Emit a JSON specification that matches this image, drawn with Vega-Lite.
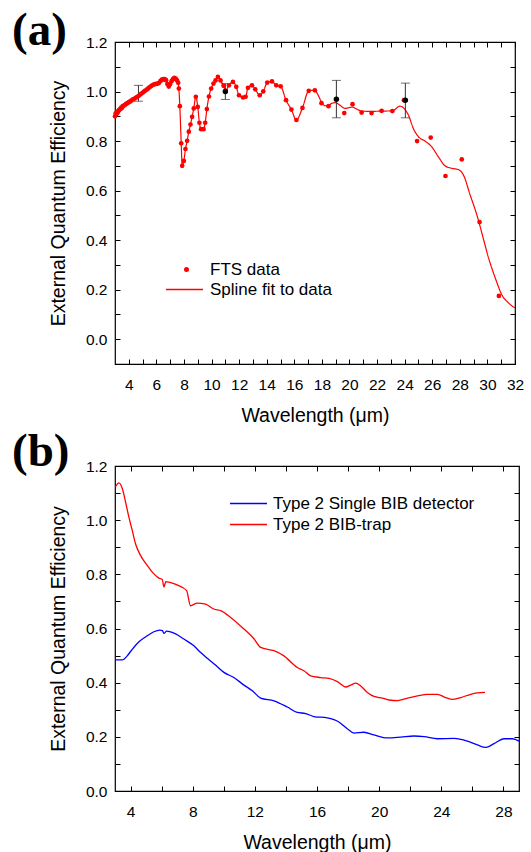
{
  "$schema": "https://vega.github.io/schema/vega-lite/v6.json",
  "background": "white",
  "padding": {"left": 11, "top": 6, "right": 3, "bottom": 0},
  "spacing": 1,
  "config": {
    "font": "Liberation Sans",
    "view": {"stroke": "black", "strokeWidth": 1.2},
    "axis": {"grid": false, "domain": false, "ticks": true, "tickColor": "black", "tickSize": -5, "tickWidth": 1,
      "labelFont": "Liberation Sans", "labelFontSize": 15.5, "labelColor": "black", "labelFlush": false, "labelOverlap": false,
      "titleFont": "Liberation Sans", "titleFontSize": 19.5, "titleFontWeight": "normal", "titleColor": "black"},
    "axisX": {"labelPadding": 18, "titlePadding": 14},
    "axisY": {"labelPadding": 13, "titlePadding": 17},
    "legend": {"labelFont": "Liberation Sans", "labelFontSize": 17, "labelColor": "black", "padding": 0, "labelLimit": 400}
  },
  "datasets": {
    "fts": [
      {"x":3.00,"y":0.900},{"x":3.05,"y":0.912},{"x":3.10,"y":0.908},{"x":3.15,"y":0.918},{"x":3.20,"y":0.915},{"x":3.25,"y":0.922},{"x":3.30,"y":0.925},{"x":3.35,"y":0.928},{"x":3.40,"y":0.930},{"x":3.45,"y":0.935},{"x":3.50,"y":0.934},{"x":3.55,"y":0.940},{"x":3.60,"y":0.942},{"x":3.70,"y":0.945},{"x":3.80,"y":0.950},{"x":3.90,"y":0.953},{"x":4.00,"y":0.957},{"x":4.10,"y":0.960},{"x":4.20,"y":0.964},{"x":4.30,"y":0.968},{"x":4.40,"y":0.971},{"x":4.50,"y":0.975},{"x":4.60,"y":0.978},{"x":4.70,"y":0.982},{"x":4.80,"y":0.987},{"x":4.90,"y":0.991},{"x":5.00,"y":0.995},{"x":5.10,"y":1.000},{"x":5.20,"y":1.004},{"x":5.30,"y":1.008},{"x":5.40,"y":1.012},{"x":5.50,"y":1.017},{"x":5.60,"y":1.021},{"x":5.70,"y":1.025},{"x":5.80,"y":1.028},{"x":5.90,"y":1.030},{"x":6.00,"y":1.031},{"x":6.10,"y":1.032},{"x":6.20,"y":1.035},{"x":6.30,"y":1.043},{"x":6.40,"y":1.048},{"x":6.50,"y":1.050},{"x":6.60,"y":1.050},{"x":6.70,"y":1.046},{"x":6.80,"y":1.030},{"x":6.90,"y":1.020},{"x":7.00,"y":1.030},{"x":7.10,"y":1.042},{"x":7.20,"y":1.050},{"x":7.30,"y":1.055},{"x":7.40,"y":1.052},{"x":7.50,"y":1.045},{"x":7.58,"y":1.035},
      {"x":7.63,"y":1.012},{"x":7.70,"y":0.941},{"x":7.80,"y":0.791},{"x":7.87,"y":0.700},{"x":7.99,"y":0.720},{"x":8.11,"y":0.768},{"x":8.23,"y":0.801},{"x":8.35,"y":0.838},{"x":8.47,"y":0.867},{"x":8.59,"y":0.898},{"x":8.71,"y":0.932},{"x":8.86,"y":0.979},{"x":9.00,"y":0.938},{"x":9.12,"y":0.874},{"x":9.24,"y":0.848},{"x":9.42,"y":0.848},{"x":9.54,"y":0.874},{"x":9.66,"y":0.929},{"x":9.81,"y":0.980},{"x":9.97,"y":1.012},{"x":10.14,"y":1.032},{"x":10.29,"y":1.045},{"x":10.46,"y":1.059},{"x":10.65,"y":1.045},{"x":10.87,"y":1.023},{"x":11.02,"y":1.003},{"x":11.26,"y":1.025},{"x":11.55,"y":1.039},{"x":11.79,"y":1.019},{"x":11.99,"y":0.985},{"x":12.28,"y":0.976},{"x":12.47,"y":0.979},{"x":12.64,"y":1.015},{"x":12.93,"y":1.025},{"x":13.17,"y":1.009},{"x":13.49,"y":0.985},{"x":13.75,"y":1.001},{"x":14.04,"y":1.036},{"x":14.38,"y":1.041},{"x":14.69,"y":1.025},{"x":15.01,"y":1.021},{"x":15.40,"y":0.965},{"x":15.79,"y":0.927},{"x":16.15,"y":0.885},{"x":16.59,"y":0.934},{"x":17.05,"y":1.003},{"x":17.49,"y":1.005},{"x":17.97,"y":0.953},{"x":18.48,"y":0.941},{"x":19.62,"y":0.913},{"x":20.22,"y":0.949},{"x":20.88,"y":0.915},{"x":21.60,"y":0.913},{"x":22.33,"y":0.922},{"x":23.11,"y":0.921},{"x":23.95,"y":0.965},{"x":24.90,"y":0.800},{"x":25.89,"y":0.814},{"x":26.96,"y":0.659},{"x":28.14,"y":0.726},{"x":29.43,"y":0.473},{"x":30.83,"y":0.175}
    ],
    "spline": [
      {"x":3.00,"y":0.900},{"x":3.05,"y":0.912},{"x":3.10,"y":0.908},{"x":3.15,"y":0.918},{"x":3.20,"y":0.915},{"x":3.25,"y":0.922},{"x":3.30,"y":0.925},{"x":3.35,"y":0.928},{"x":3.40,"y":0.930},{"x":3.45,"y":0.935},{"x":3.50,"y":0.934},{"x":3.55,"y":0.940},{"x":3.60,"y":0.942},{"x":3.70,"y":0.945},{"x":3.80,"y":0.950},{"x":3.90,"y":0.953},{"x":4.00,"y":0.957},{"x":4.10,"y":0.960},{"x":4.20,"y":0.964},{"x":4.30,"y":0.968},{"x":4.40,"y":0.971},{"x":4.50,"y":0.975},{"x":4.60,"y":0.978},{"x":4.70,"y":0.982},{"x":4.80,"y":0.987},{"x":4.90,"y":0.991},{"x":5.00,"y":0.995},{"x":5.10,"y":1.000},{"x":5.20,"y":1.004},{"x":5.30,"y":1.008},{"x":5.40,"y":1.012},{"x":5.50,"y":1.017},{"x":5.60,"y":1.021},{"x":5.70,"y":1.025},{"x":5.80,"y":1.028},{"x":5.90,"y":1.030},{"x":6.00,"y":1.031},{"x":6.10,"y":1.032},{"x":6.20,"y":1.035},{"x":6.30,"y":1.043},{"x":6.40,"y":1.048},{"x":6.50,"y":1.050},{"x":6.60,"y":1.050},{"x":6.70,"y":1.046},{"x":6.80,"y":1.030},{"x":6.90,"y":1.020},{"x":7.00,"y":1.030},{"x":7.10,"y":1.042},{"x":7.20,"y":1.050},{"x":7.30,"y":1.055},{"x":7.40,"y":1.052},{"x":7.50,"y":1.045},{"x":7.58,"y":1.035},
      {"x":7.63,"y":1.012},{"x":7.70,"y":0.941},{"x":7.80,"y":0.791},{"x":7.87,"y":0.700},{"x":7.99,"y":0.720},{"x":8.11,"y":0.768},{"x":8.23,"y":0.801},{"x":8.35,"y":0.838},{"x":8.47,"y":0.867},{"x":8.59,"y":0.898},{"x":8.71,"y":0.932},{"x":8.86,"y":0.979},{"x":9.00,"y":0.938},{"x":9.12,"y":0.874},{"x":9.24,"y":0.848},{"x":9.42,"y":0.848},{"x":9.54,"y":0.874},{"x":9.66,"y":0.929},{"x":9.81,"y":0.980},{"x":9.97,"y":1.012},{"x":10.14,"y":1.032},{"x":10.29,"y":1.045},{"x":10.46,"y":1.059},{"x":10.65,"y":1.045},{"x":10.87,"y":1.023},{"x":11.02,"y":1.003},{"x":11.26,"y":1.025},{"x":11.55,"y":1.039},{"x":11.79,"y":1.019},{"x":11.99,"y":0.985},{"x":12.28,"y":0.976},{"x":12.47,"y":0.979},{"x":12.64,"y":1.015},{"x":12.93,"y":1.025},{"x":13.17,"y":1.009},{"x":13.49,"y":0.985},{"x":13.75,"y":1.001},{"x":14.04,"y":1.036},{"x":14.38,"y":1.041},{"x":14.69,"y":1.025},{"x":15.01,"y":1.021},{"x":15.40,"y":0.965},{"x":15.79,"y":0.927},{"x":16.15,"y":0.885},{"x":16.59,"y":0.934},{"x":17.05,"y":1.003},{"x":17.49,"y":1.005},
      {"x":17.73,"y":0.985},{"x":17.97,"y":0.958},{"x":18.20,"y":0.943},{"x":18.48,"y":0.942},{"x":18.70,"y":0.952},{"x":19.00,"y":0.955},{"x":19.30,"y":0.945},{"x":19.67,"y":0.932},{"x":20.22,"y":0.937},{"x":20.50,"y":0.930},{"x":20.88,"y":0.921},{"x":21.60,"y":0.920},{"x":22.33,"y":0.921},{"x":23.11,"y":0.922},{"x":23.66,"y":0.941},{"x":23.95,"y":0.932},{"x":24.27,"y":0.905},{"x":24.63,"y":0.851},{"x":24.99,"y":0.818},{"x":25.48,"y":0.800},{"x":25.96,"y":0.777},{"x":26.45,"y":0.736},{"x":26.93,"y":0.700},{"x":27.42,"y":0.690},{"x":27.90,"y":0.685},{"x":28.27,"y":0.662},{"x":28.75,"y":0.582},{"x":29.24,"y":0.501},{"x":29.60,"y":0.428},{"x":30.09,"y":0.327},{"x":30.57,"y":0.247},{"x":31.05,"y":0.179},{"x":31.54,"y":0.146},{"x":32.00,"y":0.126}
    ],
    "err": [
      {"x":4.70,"lo":0.961,"hi":1.025},
      {"x":11.00,"lo":0.968,"hi":1.032},
      {"x":19.05,"lo":0.894,"hi":1.045},
      {"x":24.05,"lo":0.894,"hi":1.034}
    ],
    "errpts": [
      {"x":11.00,"y":1.000},
      {"x":19.05,"y":0.969},
      {"x":24.05,"y":0.965}
    ],
    "bib": [
      {"x":3.03,"y":0.484,"series":"Type 2 Single BIB detector"},{"x":3.47,"y":0.484,"series":"Type 2 Single BIB detector"},{"x":3.79,"y":0.499,"series":"Type 2 Single BIB detector"},{"x":4.00,"y":0.515,"series":"Type 2 Single BIB detector"},{"x":4.21,"y":0.530,"series":"Type 2 Single BIB detector"},{"x":4.54,"y":0.551,"series":"Type 2 Single BIB detector"},{"x":5.07,"y":0.573,"series":"Type 2 Single BIB detector"},{"x":5.50,"y":0.588,"series":"Type 2 Single BIB detector"},{"x":5.89,"y":0.594,"series":"Type 2 Single BIB detector"},{"x":6.05,"y":0.592,"series":"Type 2 Single BIB detector"},{"x":6.15,"y":0.582,"series":"Type 2 Single BIB detector"},{"x":6.32,"y":0.590,"series":"Type 2 Single BIB detector"},{"x":6.90,"y":0.580,"series":"Type 2 Single BIB detector"},{"x":7.43,"y":0.561,"series":"Type 2 Single BIB detector"},{"x":8.08,"y":0.536,"series":"Type 2 Single BIB detector"},{"x":8.50,"y":0.512,"series":"Type 2 Single BIB detector"},{"x":8.94,"y":0.490,"series":"Type 2 Single BIB detector"},{"x":9.47,"y":0.465,"series":"Type 2 Single BIB detector"},{"x":10.01,"y":0.438,"series":"Type 2 Single BIB detector"},{"x":10.65,"y":0.419,"series":"Type 2 Single BIB detector"},{"x":11.30,"y":0.391,"series":"Type 2 Single BIB detector"},{"x":11.84,"y":0.370,"series":"Type 2 Single BIB detector"},{"x":12.37,"y":0.343,"series":"Type 2 Single BIB detector"},{"x":13.23,"y":0.333,"series":"Type 2 Single BIB detector"},{"x":14.09,"y":0.310,"series":"Type 2 Single BIB detector"},{"x":14.73,"y":0.290,"series":"Type 2 Single BIB detector"},{"x":15.27,"y":0.286,"series":"Type 2 Single BIB detector"},{"x":15.80,"y":0.275,"series":"Type 2 Single BIB detector"},{"x":16.66,"y":0.270,"series":"Type 2 Single BIB detector"},{"x":17.41,"y":0.255,"series":"Type 2 Single BIB detector"},{"x":17.95,"y":0.230,"series":"Type 2 Single BIB detector"},{"x":18.38,"y":0.214,"series":"Type 2 Single BIB detector"},{"x":19.02,"y":0.217,"series":"Type 2 Single BIB detector"},{"x":19.67,"y":0.207,"series":"Type 2 Single BIB detector"},{"x":20.53,"y":0.196,"series":"Type 2 Single BIB detector"},{"x":21.39,"y":0.199,"series":"Type 2 Single BIB detector"},{"x":22.24,"y":0.203,"series":"Type 2 Single BIB detector"},{"x":22.89,"y":0.201,"series":"Type 2 Single BIB detector"},{"x":23.75,"y":0.193,"series":"Type 2 Single BIB detector"},{"x":24.82,"y":0.194,"series":"Type 2 Single BIB detector"},{"x":25.68,"y":0.184,"series":"Type 2 Single BIB detector"},{"x":26.32,"y":0.170,"series":"Type 2 Single BIB detector"},{"x":26.86,"y":0.161,"series":"Type 2 Single BIB detector"},{"x":27.40,"y":0.175,"series":"Type 2 Single BIB detector"},{"x":28.04,"y":0.193,"series":"Type 2 Single BIB detector"},{"x":28.58,"y":0.193,"series":"Type 2 Single BIB detector"},{"x":29.00,"y":0.184,"series":"Type 2 Single BIB detector"}
    ],
    "trap": [
      {"x":3.03,"y":1.123,"series":"Type 2 BIB-trap"},{"x":3.25,"y":1.138,"series":"Type 2 BIB-trap"},{"x":3.47,"y":1.117,"series":"Type 2 BIB-trap"},{"x":3.68,"y":1.067,"series":"Type 2 BIB-trap"},{"x":3.89,"y":1.012,"series":"Type 2 BIB-trap"},{"x":4.11,"y":0.962,"series":"Type 2 BIB-trap"},{"x":4.32,"y":0.913,"series":"Type 2 BIB-trap"},{"x":4.64,"y":0.870,"series":"Type 2 BIB-trap"},{"x":5.07,"y":0.833,"series":"Type 2 BIB-trap"},{"x":5.40,"y":0.808,"series":"Type 2 BIB-trap"},{"x":5.82,"y":0.786,"series":"Type 2 BIB-trap"},{"x":6.04,"y":0.781,"series":"Type 2 BIB-trap"},{"x":6.15,"y":0.753,"series":"Type 2 BIB-trap"},{"x":6.27,"y":0.773,"series":"Type 2 BIB-trap"},{"x":6.47,"y":0.771,"series":"Type 2 BIB-trap"},{"x":7.00,"y":0.761,"series":"Type 2 BIB-trap"},{"x":7.61,"y":0.740,"series":"Type 2 BIB-trap"},{"x":7.86,"y":0.684,"series":"Type 2 BIB-trap"},{"x":8.29,"y":0.694,"series":"Type 2 BIB-trap"},{"x":8.83,"y":0.690,"series":"Type 2 BIB-trap"},{"x":9.36,"y":0.672,"series":"Type 2 BIB-trap"},{"x":9.80,"y":0.666,"series":"Type 2 BIB-trap"},{"x":10.44,"y":0.641,"series":"Type 2 BIB-trap"},{"x":11.30,"y":0.598,"series":"Type 2 BIB-trap"},{"x":11.94,"y":0.562,"series":"Type 2 BIB-trap"},{"x":12.37,"y":0.530,"series":"Type 2 BIB-trap"},{"x":13.23,"y":0.518,"series":"Type 2 BIB-trap"},{"x":13.87,"y":0.499,"series":"Type 2 BIB-trap"},{"x":14.73,"y":0.456,"series":"Type 2 BIB-trap"},{"x":15.16,"y":0.444,"series":"Type 2 BIB-trap"},{"x":15.59,"y":0.425,"series":"Type 2 BIB-trap"},{"x":16.24,"y":0.419,"series":"Type 2 BIB-trap"},{"x":16.77,"y":0.416,"series":"Type 2 BIB-trap"},{"x":17.31,"y":0.404,"series":"Type 2 BIB-trap"},{"x":17.85,"y":0.384,"series":"Type 2 BIB-trap"},{"x":18.17,"y":0.391,"series":"Type 2 BIB-trap"},{"x":18.49,"y":0.398,"series":"Type 2 BIB-trap"},{"x":18.81,"y":0.388,"series":"Type 2 BIB-trap"},{"x":19.24,"y":0.364,"series":"Type 2 BIB-trap"},{"x":19.67,"y":0.349,"series":"Type 2 BIB-trap"},{"x":20.21,"y":0.343,"series":"Type 2 BIB-trap"},{"x":20.64,"y":0.336,"series":"Type 2 BIB-trap"},{"x":21.18,"y":0.334,"series":"Type 2 BIB-trap"},{"x":21.82,"y":0.343,"series":"Type 2 BIB-trap"},{"x":22.47,"y":0.351,"series":"Type 2 BIB-trap"},{"x":23.11,"y":0.357,"series":"Type 2 BIB-trap"},{"x":23.75,"y":0.357,"series":"Type 2 BIB-trap"},{"x":24.28,"y":0.345,"series":"Type 2 BIB-trap"},{"x":24.71,"y":0.338,"series":"Type 2 BIB-trap"},{"x":25.25,"y":0.345,"series":"Type 2 BIB-trap"},{"x":25.89,"y":0.357,"series":"Type 2 BIB-trap"},{"x":26.32,"y":0.362,"series":"Type 2 BIB-trap"},{"x":26.81,"y":0.364,"series":"Type 2 BIB-trap"}
    ]
  },
  "resolve": {
    "scale": {"color": "independent", "shape": "independent", "strokeDash": "independent"},
    "legend": {"color": "independent", "shape": "independent", "strokeDash": "independent"}
  },
  "vconcat": [
    {
      "width": 400,
      "height": 322,
      "title": {"text": "(a)", "anchor": "start", "frame": "group", "orient": "top", "font": "Liberation Serif", "fontWeight": "bold", "fontSize": 47, "baseline": "alphabetic", "offset": -57, "dx": -103, "color": "black"},
      "resolve": {"axis": {"x": "independent", "y": "independent"}},
      "layer": [
        {
          "mark": {"type": "rule", "strokeDash": [2, 2], "color": "black", "strokeWidth": 1},
          "encoding": {"y": {"datum": 1, "type": "quantitative", "axis": null}}
        },
        {
          "data": {"name": "spline"},
          "mark": {"type": "line", "color": "red", "strokeWidth": 1.2, "interpolate": "monotone"},
          "encoding": {
            "x": {"field": "x", "type": "quantitative", "scale": {"domain": [3, 32], "nice": false, "zero": false},
              "axis": {"orient": "bottom", "title": "Wavelength (μm)", "values": [4,5,6,7,8,9,10,11,12,13,14,15,16,17,18,19,20,21,22,23,24,25,26,27,28,29,30,31,32], "labelExpr": "datum.value % 2 == 0 ? datum.label : ''"}},
            "y": {"field": "y", "type": "quantitative", "scale": {"domain": [-0.1, 1.2], "nice": false, "zero": false},
              "axis": {"orient": "left", "title": "External Quantum Efficiency", "values": [-0.1,0,0.1,0.2,0.3,0.4,0.5,0.6,0.7,0.8,0.9,1.0,1.1,1.2], "format": ".1f", "labelExpr": "indexof(['0.0','0.2','0.4','0.6','0.8','1.0','1.2'], datum.label) >= 0 ? datum.label : ''"}},
            "strokeDash": {"datum": "Spline fit to data", "scale": {"range": [[1, 0]]},
              "legend": {"orient": "none", "legendX": 50, "legendY": 228, "title": null, "symbolType": "stroke", "symbolSize": 1369, "symbolStrokeColor": "red", "symbolStrokeWidth": 1.3, "labelOffset": 6}}
          }
        },
        {
          "data": {"name": "err"},
          "mark": {"type": "errorbar", "ticks": {"size": 9, "color": "#333"}, "color": "#333"},
          "encoding": {
            "x": {"field": "x", "type": "quantitative", "axis": null},
            "y": {"field": "lo", "type": "quantitative", "axis": null},
            "y2": {"field": "hi"}
          }
        },
        {
          "data": {"name": "fts"},
          "mark": {"type": "point", "filled": true, "color": "red", "size": 22, "opacity": 1},
          "encoding": {
            "x": {"field": "x", "type": "quantitative", "axis": {"orient": "top", "labels": false, "title": null, "values": [4,5,6,7,8,9,10,11,12,13,14,15,16,17,18,19,20,21,22,23,24,25,26,27,28,29,30,31,32]}},
            "y": {"field": "y", "type": "quantitative", "axis": {"orient": "right", "labels": false, "title": null, "values": [-0.1,0,0.1,0.2,0.3,0.4,0.5,0.6,0.7,0.8,0.9,1.0,1.1,1.2]}},
            "shape": {"datum": "FTS data", "scale": {"range": ["circle"]},
              "legend": {"orient": "none", "legendX": 63, "legendY": 219, "title": null, "symbolSize": 25, "symbolFillColor": "red", "symbolStrokeWidth": 0, "labelOffset": 15}}
          }
        },
        {
          "data": {"name": "errpts"},
          "mark": {"type": "point", "filled": true, "color": "black", "size": 30, "opacity": 1},
          "encoding": {
            "x": {"field": "x", "type": "quantitative", "axis": null},
            "y": {"field": "y", "type": "quantitative", "axis": null}
          }
        }
      ]
    },
    {
      "width": 404,
      "height": 325,
      "title": {"text": "(b)", "anchor": "start", "frame": "group", "orient": "top", "font": "Liberation Serif", "fontWeight": "bold", "fontSize": 47, "baseline": "alphabetic", "offset": -54, "dx": -103, "color": "black"},
      "resolve": {
        "axis": {"x": "independent", "y": "independent"},
        "scale": {"color": "independent"},
        "legend": {"color": "independent"}
      },
      "layer": [
        {
          "data": {"name": "bib"},
          "mark": {"type": "line", "strokeWidth": 1.3, "interpolate": "monotone"},
          "encoding": {
            "x": {"field": "x", "type": "quantitative", "scale": {"domain": [3, 29], "nice": false, "zero": false},
              "axis": {"orient": "bottom", "title": "Wavelength (μm)", "values": [4,6,8,10,12,14,16,18,20,22,24,26,28], "labelExpr": "datum.value % 4 == 0 ? datum.label : ''"}},
            "y": {"field": "y", "type": "quantitative", "scale": {"domain": [0, 1.2], "nice": false, "zero": false},
              "axis": {"orient": "left", "title": "External Quantum Efficiency", "values": [0,0.1,0.2,0.3,0.4,0.5,0.6,0.7,0.8,0.9,1.0,1.1,1.2], "format": ".1f", "labelExpr": "indexof(['0.0','0.2','0.4','0.6','0.8','1.0','1.2'], datum.label) >= 0 ? datum.label : ''"}},
            "color": {"field": "series", "type": "nominal",
              "scale": {"domain": ["Type 2 Single BIB detector"], "range": ["#0000ff"]},
              "legend": {"orient": "none", "legendX": 114, "legendY": 18, "title": null, "symbolType": "stroke", "symbolSize": 1369, "symbolStrokeWidth": 1.5, "labelOffset": 5}}
          }
        },
        {
          "data": {"name": "trap"},
          "mark": {"type": "line", "strokeWidth": 1.3, "interpolate": "monotone"},
          "encoding": {
            "x": {"field": "x", "type": "quantitative", "axis": {"orient": "top", "labels": false, "title": null, "values": [4,6,8,10,12,14,16,18,20,22,24,26,28]}},
            "y": {"field": "y", "type": "quantitative", "axis": {"orient": "right", "labels": false, "title": null, "values": [0,0.1,0.2,0.3,0.4,0.5,0.6,0.7,0.8,0.9,1.0,1.1,1.2]}},
            "color": {"field": "series", "type": "nominal",
              "scale": {"domain": ["Type 2 BIB-trap"], "range": ["#ff0000"]},
              "legend": {"orient": "none", "legendX": 114, "legendY": 39, "title": null, "symbolType": "stroke", "symbolSize": 1369, "symbolStrokeWidth": 1.5, "labelOffset": 5}}
          }
        }
      ]
    }
  ]
}
